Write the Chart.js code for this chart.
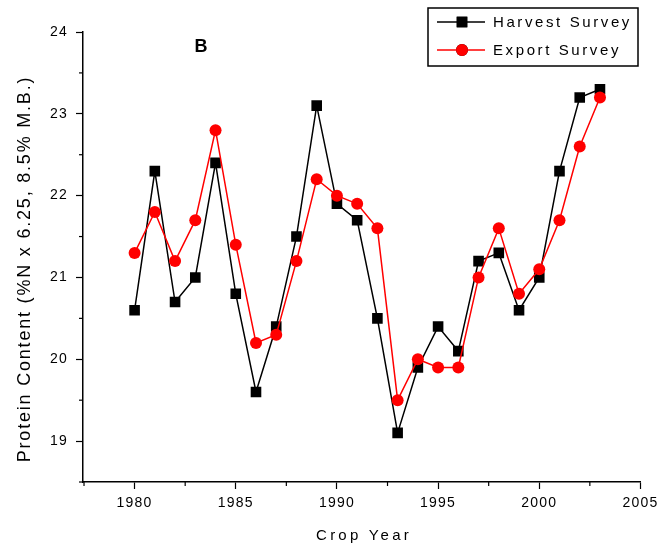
<!DOCTYPE html>
<html><head><meta charset="utf-8">
<script src="https://cdn.jsdelivr.net/npm/chart.js@4/dist/chart.umd.min.js"></script>
<style>html,body{margin:0;padding:0;background:#fff}#wrap{width:662px;height:549px}</style>
</head><body><div id="wrap"><canvas id="c" width="662" height="549"></canvas></div>
<script>
const years = [1980,1981,1982,1983,1984,1985,1986,1987,1988,1989,1990,1991,1992,1993,1994,1995,1996,1997,1998,1999,2000,2001,2002,2003];
const harvestSurvey = [20.6,22.3,20.7,21.0,22.4,20.8,19.6,20.4,21.5,23.1,21.9,21.7,20.5,19.1,19.9,20.4,20.1,21.2,21.3,20.6,21.0,22.3,23.2,23.3];
const exportSurvey = [21.3,21.8,21.2,21.7,22.8,21.4,20.2,20.3,21.2,22.2,22.0,21.9,21.6,19.5,20.0,19.9,19.9,21.0,21.6,20.8,21.1,21.7,22.6,23.2];
const seriesNames = ['Harvest Survey','Export Survey'];
const panelLabel = 'B';
const xTitle = 'Crop Year';
const yTitle = 'Protein Content (%N x 6.25, 8.5% M.B.)';

const FONT = '"Liberation Sans", Arial, sans-serif';
const toPts = arr => years.map((y,i)=>({x:y,y:arr[i]}));
const isMajorX = v => Math.abs(v/5 - Math.round(v/5)) < 1e-9;
const isMajorY = v => Math.abs(v - Math.round(v)) < 1e-9;

const decorPlugin = {
  id:'decor',
  beforeDraw(chart){ chart.ctx.letterSpacing='1.2px'; },
  afterDraw(chart){
    const ctx = chart.ctx;
    ctx.save();
    // minor ticks
    const xs = chart.scales.x, ys = chart.scales.y;
    ctx.strokeStyle='#000'; ctx.lineWidth=1.2;
    xs.ticks.forEach(t=>{ if(!isMajorX(t.value)){ const px=xs.getPixelForValue(t.value); ctx.beginPath(); ctx.moveTo(px,xs.top); ctx.lineTo(px,xs.top+4); ctx.stroke(); }});
    ys.ticks.forEach(t=>{ if(!isMajorY(t.value)){ const py=ys.getPixelForValue(t.value); ctx.beginPath(); ctx.moveTo(ys.right,py); ctx.lineTo(ys.right-4,py); ctx.stroke(); }});
    // legend
    const bx=428, by=8, bw=210, bh=58;
    ctx.strokeStyle='#000'; ctx.lineWidth=1.5;
    ctx.strokeRect(bx,by,bw,bh);
    ctx.font='15px '+FONT;
    ctx.letterSpacing='2.6px';
    ctx.textBaseline='middle';
    ctx.textAlign='left';
    chart.data.datasets.forEach((ds,i)=>{
      const cy = by+14+i*28;
      ctx.strokeStyle=ds.borderColor; ctx.lineWidth=1.5;
      ctx.beginPath(); ctx.moveTo(bx+9,cy); ctx.lineTo(bx+57,cy); ctx.stroke();
      Chart.helpers.drawPoint(ctx,{pointStyle:ds.pointStyle,radius:ds.pointRadius,borderWidth:0},bx+34,cy);
      ctx.fillStyle=ds.pointBackgroundColor; ctx.fill();
      ctx.fillStyle='#000';
      ctx.fillText(ds.label,bx+65,cy+1);
    });
    // axis titles
    ctx.fillStyle='#000';
    ctx.textAlign='center';
    ctx.font='15px '+FONT;
    ctx.letterSpacing='3.2px';
    ctx.fillText(xTitle,364,536);
    ctx.save();
    ctx.translate(25,269);
    ctx.rotate(-Math.PI/2);
    ctx.font='18px '+FONT;
    ctx.letterSpacing='1.8px';
    ctx.fillText(yTitle,0,0);
    ctx.restore();
    // panel label
    ctx.letterSpacing='0px';
    ctx.font='bold 18px '+FONT;
    ctx.fillText(panelLabel,201,47);
    ctx.restore();
  }
};

new Chart(document.getElementById('c'),{
  type:'line',
  data:{datasets:[
    {label:seriesNames[0],data:toPts(harvestSurvey),borderColor:'#000',backgroundColor:'#000',pointBackgroundColor:'#000',pointBorderColor:'#000',pointStyle:'rect',pointRadius:7.5,pointBorderWidth:0,borderWidth:1.5,order:2,tension:0},
    {label:seriesNames[1],data:toPts(exportSurvey),borderColor:'#ff0000',backgroundColor:'#ff0000',pointBackgroundColor:'#ff0000',pointBorderColor:'#ff0000',pointStyle:'circle',pointRadius:6,pointBorderWidth:0,borderWidth:1.5,order:1,tension:0}
  ]},
  options:{
    responsive:false,animation:false,
    layout:{padding:{top:32,right:19,left:0,bottom:0}},
    plugins:{legend:{display:false},tooltip:{enabled:false}},
    scales:{
      x:{type:'linear',min:1977.45,max:2005,
        afterFit(s){s.height=67;},
        ticks:{stepSize:2.5,autoSkip:false,maxRotation:0,color:'#000',padding:6,font:{size:14,family:FONT},callback:v=>(isMajorX(v)?String(v):'')},
        afterBuildTicks(s){ const t=[]; for(let v=1977.5; v<=2005.001; v+=2.5) t.push({value:v}); s.ticks=t; },
        grid:{drawOnChartArea:false,tickLength:7,tickWidth:1.2,tickColor:c=>(c.tick&&isMajorX(c.tick.value)?'#000':'rgba(0,0,0,0)')},
        border:{color:'#000',width:1.5},
        title:{display:false}
      },
      y:{type:'linear',min:18.5,max:24,
        afterFit(s){s.width=83;},
        ticks:{stepSize:0.5,autoSkip:false,color:'#000',padding:8,font:{size:14,family:FONT},callback:v=>(isMajorY(v)?String(Math.round(v)):'')},
        grid:{drawOnChartArea:false,tickLength:7,tickWidth:1.2,tickColor:c=>(c.tick&&isMajorY(c.tick.value)?'#000':'rgba(0,0,0,0)')},
        border:{color:'#000',width:1.5},
        title:{display:false}
      }
    }
  },
  plugins:[decorPlugin]
});
</script></body></html>
